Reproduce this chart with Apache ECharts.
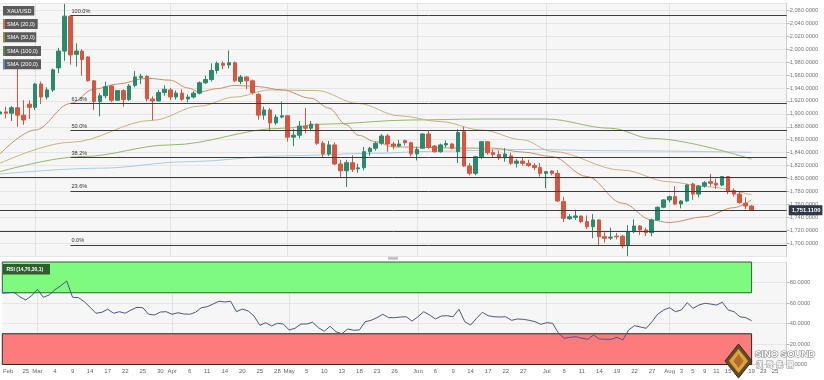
<!DOCTYPE html>
<html><head><meta charset="utf-8">
<script src="https://cdn.jsdelivr.net/npm/echarts@6/dist/echarts.min.js"></script>
<style>html,body{margin:0;padding:0;background:#fff}#c{width:824px;height:380px}</style>
</head><body><div id="c"></div>
<script>
// ---------- data ----------
const dates = [
'2022-02-21','2022-02-22','2022-02-23','2022-02-24','2022-02-25','2022-02-28',
'2022-03-01','2022-03-02','2022-03-03','2022-03-04','2022-03-07','2022-03-08','2022-03-09','2022-03-10','2022-03-11','2022-03-14','2022-03-15','2022-03-16','2022-03-17','2022-03-18','2022-03-21','2022-03-22','2022-03-23','2022-03-24','2022-03-25','2022-03-28','2022-03-29','2022-03-30','2022-03-31',
'2022-04-01','2022-04-04','2022-04-05','2022-04-06','2022-04-07','2022-04-08','2022-04-11','2022-04-12','2022-04-13','2022-04-14','2022-04-18','2022-04-19','2022-04-20','2022-04-21','2022-04-22','2022-04-25','2022-04-26','2022-04-27','2022-04-28','2022-04-29',
'2022-05-02','2022-05-03','2022-05-04','2022-05-05','2022-05-06','2022-05-09','2022-05-10','2022-05-11','2022-05-12','2022-05-13','2022-05-16','2022-05-17','2022-05-18','2022-05-19','2022-05-20','2022-05-23','2022-05-24','2022-05-25','2022-05-26','2022-05-27','2022-05-30','2022-05-31',
'2022-06-01','2022-06-02','2022-06-03','2022-06-06','2022-06-07','2022-06-08','2022-06-09','2022-06-10','2022-06-13','2022-06-14','2022-06-15','2022-06-16','2022-06-17','2022-06-20','2022-06-21','2022-06-22','2022-06-23','2022-06-24','2022-06-27','2022-06-28','2022-06-29','2022-06-30',
'2022-07-01','2022-07-04','2022-07-05','2022-07-06','2022-07-07','2022-07-08','2022-07-11','2022-07-12','2022-07-13','2022-07-14','2022-07-15','2022-07-18','2022-07-19','2022-07-20','2022-07-21','2022-07-22','2022-07-25','2022-07-26','2022-07-27','2022-07-28','2022-07-29',
'2022-08-01','2022-08-02','2022-08-03','2022-08-04','2022-08-05','2022-08-08','2022-08-09','2022-08-10','2022-08-11','2022-08-12','2022-08-15','2022-08-16','2022-08-17','2022-08-18','2022-08-19',
'2022-08-22','2022-08-23','2022-08-24','2022-08-25','2022-08-26','2022-08-29'
];

const opens = [
1900,1903,1901,1909.5,1898,1915,
1910,1946,1926,1937,1971,1997,2051,1992,1997,1988,1951,1919,1928,1943,1921,1936,1922,1944,1956,1958,1923,1920,1933,
1937,1926,1932,1923,1926,1932,1948,1953,1967,1978,1975.5,1979,1950,1957,1951,1930,1898,1906,1886,1895,
1897,1864,1867,1881,1877.7,1884,1854.5,1838,1852,1822.5,1812,1824.5,1815,1816.8,1841.5,1846.8,1854.5,1865.8,1853.4,1850.3,1858.5,1855.4,
1838,1846.8,1868.9,1850.3,1841.5,1852,1853.4,1841.5,1872.4,1819.4,1808,1833.8,1857,1840,1837,1832,1835,1823.6,1827,1823.6,1820,1817,
1808,1811.7,1808,1764.3,1738,1740,1742,1733.4,1725.6,1736,1710.2,1708,1711,1711,1697,1718,1726.7,1720.5,1716.4,1736,1755.6,
1767,1772,1760.7,1765.3,1791.6,1776,1788.5,1795,1792.6,1790,1803,1781.3,1776,1761.8,1757.6
];
const closes = [
1903,1901,1909.5,1898,1890.5,1910,
1946,1926,1937,1968,1997,2051,1991,1997,1984,1951,1919,1928,1942,1921,1936,1922,1943,1957,1958,1923,1920,1933,1938,
1926,1932,1922.5,1926,1932,1948,1953,1967,1978,1975,1979,1951,1957,1951,1933,1898,1906,1886,1895,1897,
1864,1867,1881,1877.7,1884,1854.5,1838,1852,1822.5,1812,1824.5,1814.3,1816.5,1841.5,1846.8,1854.5,1865.8,1853.4,1850.3,1853.4,1855.4,1838,
1845,1868.9,1848.3,1841.5,1852,1854,1847,1871,1819.4,1808,1833.8,1857,1840,1837,1832,1838,1823.6,1827,1823.6,1820,1817,1808,
1810.6,1808,1765.4,1738.6,1741,1742.2,1733.4,1725.6,1736,1710.2,1707.7,1709.5,1710,1696,1718,1726.7,1720.5,1716.4,1736,1755.6,1767,
1772,1760.7,1765.3,1790,1776,1788.5,1793.6,1792.6,1790,1803,1779.7,1776,1762.7,1757.6,1751.11
];
const lows = [
1893,1893,1889,1880,1883,1892,
1906,1915,1922,1934,1963,1982,1976,1973,1959,1950,1906,1896,1924,1918,1920,1911,1920,1941,1946,1919,1890,1919,1928,
1921,1922,1920,1918,1924,1930,1946,1950,1962,1969,1970,1949,1946,1938,1930,1891,1891,1873,1883,1893,
1857,1850,1862,1870,1873,1852,1832,1835,1821,1802,1787,1810,1809,1813,1835,1843,1852,1841.5,1845,1848,1851,1834,
1828,1846,1846,1840,1840,1848,1845,1824,1818,1805,1805,1830,1837,1832,1829,1826,1821,1817,1820,1818,1813,1803,
1785,1805,1764,1733,1736,1736,1731,1722,1707.7,1697,1701,1705,1706,1692,1680,1715.5,1713,1711,1711,1735,1754,
1763,1759,1754,1764,1767,1771,1786,1788,1784,1788,1776,1772,1761,1753,1750.5
];
const highs = [
1910,1911,1912,1973,1921,1921,
1948,1950,1941,1970,2002,2070,2052,2009,2000,1989,1952,1932,1950,1944,1937,1938,1946,1966,1962,1960,1927,1937,1944,
1940,1936,1938,1930,1935,1950,1959,1978,1981,1981,1998,1981,1960,1958,1953,1932,1911,1909,1899,1919,
1898,1877,1889,1909,1889,1885,1858,1858,1856,1829,1829,1836,1823,1849,1849,1857,1869,1869,1857,1859.6,1860,1857,
1849,1870,1874,1851.8,1854,1859,1855,1876,1880,1824,1835,1857.5,1858,1845,1843,1847,1840,1830,1832,1829,1824,1824,
1812,1813,1813,1772,1745,1752,1743,1743,1745,1737,1717,1724,1716,1713,1728,1737,1728,1724,1738,1757,1768,
1774,1788,1767,1792,1793.6,1790,1796,1807,1800,1804,1803.5,1785,1781,1771,1759
];

const rsi = [
69.5,70,70.4,66,63,67,73.4,65.6,67.8,73,76.9,81.5,65.6,65.2,61.3,55.8,50,50.9,53.9,50,
51.5,50,53.2,55.8,55.4,49,48.3,51.2,51.5,49,50.5,49.3,49,50.9,55.4,56.4,59,61.7,61,61.7,
51.5,54.1,52.2,47.3,38.2,40.8,37.6,40.2,39.5,33.7,35.3,39.5,39.5,41.2,35.9,32.4,37.3,32,30,34.6,
33.4,33.7,41.8,43.1,45.7,49,45.7,45.7,46.3,46.6,42.3,46.6,51.5,48.3,44.4,47.3,47.6,46.6,53.9,41.8,
38.5,45,50.9,47.6,46.6,46.3,46.6,43.1,44.4,44.1,43.1,41.8,39.2,40.8,40.2,30.7,25.6,26.5,27.1,25.6,
24.6,28.8,24.9,24.6,24.6,26.5,23.9,33.7,37.9,36.6,35.3,41.8,49.3,53.2,55.4,51.5,53.2,60.3,54.8,58,
59.7,59,58,60.7,53.2,51.5,46.6,45.7,42.7
];

// moving averages at key dates
const sma20 = [['2022-02-21',1838],['2022-03-01',1875],['2022-03-09',1916],['2022-03-15',1938],['2022-03-21',1946],['2022-03-28',1955],['2022-04-01',1952],['2022-04-06',1940],['2022-04-08',1934],['2022-04-13',1939],['2022-04-19',1944],['2022-04-25',1942],['2022-04-29',1937],['2022-05-06',1924],['2022-05-11',1909],['2022-05-16',1883],['2022-05-18',1867],['2022-05-23',1857],['2022-05-26',1849],['2022-06-03',1848],['2022-06-10',1847],['2022-06-20',1847],['2022-06-27',1841],['2022-07-04',1834],['2022-07-12',1803],['2022-07-20',1762],['2022-07-27',1736],['2022-08-01',1732],['2022-08-09',1741],['2022-08-16',1755],['2022-08-19',1767]];
const sma50 = [['2022-02-21',1823.6],['2022-03-09',1856],['2022-03-29',1890],['2022-04-08',1912],['2022-04-19',1926],['2022-04-27',1937],['2022-05-09',1936],['2022-05-18',1916],['2022-05-27',1897],['2022-06-07',1888],['2022-06-16',1875],['2022-06-27',1860],['2022-07-04',1842],['2022-07-20',1813],['2022-08-01',1795],['2022-08-09',1787.5],['2022-08-19',1774.6]];
const sma100 = [['2022-02-21',1810.6],['2022-03-11',1834],['2022-04-01',1852],['2022-04-29',1877.7],['2022-05-10',1884],['2022-05-31',1890.5],['2022-06-16',1892],['2022-07-01',1892],['2022-07-18',1877.7],['2022-07-27',1862],['2022-08-19',1830]];
const sma200 = [['2022-02-21',1807],['2022-03-16',1816],['2022-04-06',1826],['2022-04-29',1835],['2022-05-23',1839],['2022-06-03',1842],['2022-06-28',1845],['2022-07-18',1843],['2022-08-19',1840.6]];

const fibLabels = ['100.0%','61.8%','50.0%','38.2%','23.6%','0.0%'];
const fibValues = [2052.2,1916.6,1874.8,1833.0,1781.1,1697.4];
const fibStart = '2022-03-09';
const levelLines = [1802, 1718.5];

const xLabels = {'2022-02-22':'Feb','2022-02-25':'25','2022-03-01':'Mar','2022-03-04':'4','2022-03-09':'9','2022-03-14':'14','2022-03-17':'17','2022-03-22':'22','2022-03-25':'25','2022-03-30':'30','2022-04-01':'Apr','2022-04-06':'6','2022-04-11':'11','2022-04-14':'14','2022-04-20':'20','2022-04-25':'25','2022-04-28':'28','2022-05-02':'May','2022-05-05':'5','2022-05-10':'10','2022-05-13':'13','2022-05-18':'18','2022-05-23':'23','2022-05-26':'26','2022-06-01':'Jun','2022-06-06':'6','2022-06-09':'9','2022-06-14':'14','2022-06-17':'17','2022-06-22':'22','2022-06-27':'27','2022-07-01':'Jul','2022-07-06':'6','2022-07-11':'11','2022-07-14':'14','2022-07-19':'19','2022-07-22':'22','2022-07-27':'27','2022-08-01':'Aug','2022-08-03':'3','2022-08-05':'5','2022-08-09':'9','2022-08-11':'11','2022-08-15':'15','2022-08-17':'17','2022-08-19':'19','2022-08-23':'23','2022-08-25':'25'};
const monthStarts = ['2022-03-01','2022-04-01','2022-05-02','2022-06-01','2022-07-01','2022-08-01'];

// ---------- chart ----------
const FONT = '"Liberation Sans", Arial, sans-serif';
const UP = '#2b8a6b', DOWN = '#d75640';
const fmt4 = v => Number(v).toLocaleString('en-US',{minimumFractionDigits:4,maximumFractionDigits:4});
const candleData = opens.map((o,i)=>[o, closes[i], lows[i], highs[i]]);
const lastDate = dates[dates.length-1];
const lastBar = dates[closes.length-1];
const lastClose = closes[closes.length-1];

const GL = -0.8, GR = 37.3;

const markLineData = [];
fibValues.forEach((v,k)=>{
  markLineData.push([{xAxis: fibStart, yAxis: v, label:{show:true, formatter: fibLabels[k]}}, {xAxis: lastDate, yAxis: v}]);
});
levelLines.forEach(v=>markLineData.push({yAxis: v, label:{show:false}}));
markLineData.push({yAxis: lastClose, label:{show:true, position:'end', distance:2, formatter: fmt4(lastClose),
  backgroundColor:'#2f3a48', color:'#fff', fontWeight:'bold', fontSize:5.8, padding:[2,2,2,3], fontFamily: FONT}});

function legendBox(y, w, text, strip, h){
  h = h || 10;
  const ch = [{type:'rect', z:200, shape:{x:0,y:0,width:w,height:h}, style:{fill:'#5b5b5b'}}];
  if (strip) ch.push({type:'rect', z:201, shape:{x:0,y:0,width:2,height:h}, style:{fill: strip}});
  ch.push({type:'text', z:202, x:4, y:h/2+0.3, style:{text:text, fill:'#ffffff', fontSize:5.5, fontFamily:FONT, verticalAlign:'middle', align:'left'}});
  return {type:'group', x:3, y:y, z:200, children: ch};
}

const chart = echarts.init(document.getElementById('c'), null, {renderer:'canvas'});
chart.setOption({
  animation:false,
  backgroundColor:'#ffffff',
  grid:[
    {left:GL, right:GR, top:3, height:253.2, show:true, backgroundColor:'#f6f6f6', borderWidth:0},
    {left:GL, right:GR, top:262, height:102.5, show:true, backgroundColor:'#f6f6f6', borderWidth:0}
  ],
  xAxis:[
    {type:'category', gridIndex:0, data:dates, boundaryGap:false,
     axisLine:{show:false}, axisTick:{show:false}, axisLabel:{show:false},
     splitLine:{show:true, interval:(i,v)=>monthStarts.includes(v), lineStyle:{color:'#e2e2e2', width:1}}},
    {type:'category', gridIndex:1, data:dates, boundaryGap:false,
     axisLine:{show:true, lineStyle:{color:'#d8d8d8'}}, axisTick:{show:false},
     axisLabel:{show:true, interval:(i,v)=>xLabels[v]!==undefined, formatter:(v)=>xLabels[v]||'', fontSize:6, color:'#666', margin:4, fontFamily:FONT},
     splitLine:{show:true, interval:(i,v)=>monthStarts.includes(v), lineStyle:{color:'#e2e2e2', width:1}}}
  ],
  yAxis:[
    {type:'value', gridIndex:0, position:'right', min:1680, max:2071.3, interval:20,
     axisLine:{show:true, lineStyle:{color:'#d0d0d0'}}, axisTick:{show:true, length:3, lineStyle:{color:'#bbb'}},
     axisLabel:{fontSize:5.7, color:'#777', margin:3, formatter:fmt4, showMinLabel:false, showMaxLabel:false, fontFamily:FONT},
     splitLine:{show:true, lineStyle:{color:'#e6e6e6', width:1}}},
    {type:'value', gridIndex:1, position:'right', min:0, max:100, interval:20,
     axisLine:{show:true, lineStyle:{color:'#d0d0d0'}}, axisTick:{show:true, length:3, lineStyle:{color:'#bbb'}},
     axisLabel:{fontSize:5.7, color:'#777', margin:3, formatter:fmt4, showMaxLabel:false, fontFamily:FONT},
     splitLine:{show:true, lineStyle:{color:'#e6e6e6', width:1}}}
  ],
  series:[
    {type:'line', name:'SMA (200,0)', xAxisIndex:0, yAxisIndex:0, data:sma200, showSymbol:false, smooth:0.35, smoothMonotone:'x', lineStyle:{color:'#a9cbe2', width:1}, z:2, silent:true},
    {type:'line', name:'SMA (100,0)', xAxisIndex:0, yAxisIndex:0, data:sma100, showSymbol:false, smooth:0.35, smoothMonotone:'x', lineStyle:{color:'#93b86c', width:1}, z:2, silent:true},
    {type:'line', name:'SMA (50,0)', xAxisIndex:0, yAxisIndex:0, data:sma50, showSymbol:false, smooth:0.35, smoothMonotone:'x', lineStyle:{color:'#c9b27f', width:1}, z:2, silent:true},
    {type:'line', name:'SMA (20,0)', xAxisIndex:0, yAxisIndex:0, data:sma20, showSymbol:false, smooth:0.35, smoothMonotone:'x', lineStyle:{color:'#c98f64', width:1}, z:2, silent:true},
    {type:'candlestick', name:'XAU/USD', xAxisIndex:0, yAxisIndex:0, data:candleData, barWidth:4, z:3,
     itemStyle:{color:UP, color0:DOWN, borderColor:UP, borderColor0:DOWN, borderWidth:1},
     markLine:{silent:true, symbol:['none','none'], animation:false,
       lineStyle:{color:'#3d3d3d', width:1, type:'solid'},
       label:{show:false, position:'insideStartTop', distance:1, fontSize:5.6, color:'#333', fontFamily:FONT},
       emphasis:{disabled:true},
       data: markLineData}},
    {type:'line', name:'RSI', xAxisIndex:1, yAxisIndex:1, data:rsi, showSymbol:false, lineStyle:{color:'#4b5781', width:1}, z:3, silent:true,
     markArea:{silent:true, data:[
       [{xAxis:dates[0], yAxis:70, itemStyle:{color:'#7efb7e', borderColor:'#2c632c', borderWidth:1}}, {xAxis:lastBar, yAxis:100}],
       [{xAxis:dates[0], yAxis:0, itemStyle:{color:'#fd7b7b', borderColor:'#3a2525', borderWidth:1}}, {xAxis:lastBar, yAxis:30}]
     ]}}
  ],
  graphic:[
    legendBox(6, 31.3, 'XAU/USD', null, 9.5),
    legendBox(19, 34.7, 'SMA (20,0)', '#d0743c'),
    legendBox(32.3, 33.3, 'SMA (50,0)', '#a08a30'),
    legendBox(46, 38, 'SMA (100,0)', '#5a8a3a'),
    legendBox(59.3, 38, 'SMA (200,0)', '#5a8ac0'),
    {type:'group', x:3, y:264, z:200, children:[
      {type:'rect', z:200, shape:{x:0,y:0,width:47,height:10.5}, style:{fill:'#2f5e2f'}},
      {type:'text', z:202, x:3.5, y:5.5, style:{text:'RSI (14,70,30,1)', fill:'#ffffff', fontSize:5, fontWeight:'bold', fontFamily:FONT, verticalAlign:'middle'}}
    ]},
    {type:'rect', z:100, shape:{x:388, y:256.8, width:10, height:3}, style:{fill:'#c4c4c4'}},
    {type:'group', z:120, children:[
      {type:'polygon', z:120, shape:{points:[[738.5,344],[752,361],[738.5,378],[725,361]]}, style:{fill:'#6b4a1c', stroke:'#2d2d2d', lineWidth:1}},
      {type:'polygon', z:121, shape:{points:[[738.5,349],[748,361],[738.5,373],[729,361]]}, style:{fill:'#d9a441'}},
      {type:'polygon', z:122, shape:{points:[[738.5,354],[743.5,361],[738.5,368],[733.5,361]]}, style:{fill:'#b36a2a'}},
      {type:'text', z:123, x:755, y:354, style:{text:'SINO SOUND', fill:'#ffffff', stroke:'#8a8a8a', lineWidth:1.2, fontSize:9.5, fontWeight:'bold', fontFamily:FONT, verticalAlign:'middle'}},
      {type:'text', z:123, x:756, y:364.5, style:{text:'漢  聲  集  團', fill:'#ffffff', stroke:'#9a9a9a', lineWidth:1, fontSize:7, fontWeight:'bold', fontFamily:'"Noto Sans CJK TC", sans-serif', verticalAlign:'middle'}}
    ]}
  ]
});
</script></body></html>
